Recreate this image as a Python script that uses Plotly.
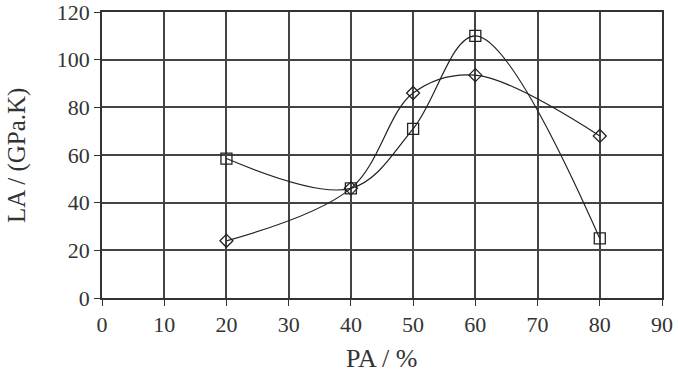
import plotly.graph_objects as go

pa = [20, 40, 50, 60, 80]
la_square = [58.5, 46, 71, 110, 25]
la_diamond = [24, 46, 86, 93.5, 68]

x_ticks = [0, 10, 20, 30, 40, 50, 60, 70, 80, 90]
y_ticks = [0, 20, 40, 60, 80, 100, 120]

fig = go.Figure()
fig.add_trace(go.Scatter(
    x=pa, y=la_square, mode="lines+markers",
    line=dict(color="#222", width=1.2, shape="spline", smoothing=1),
    marker=dict(symbol="square-open", size=11, color="#222", line=dict(width=1.3)),
    showlegend=False))
fig.add_trace(go.Scatter(
    x=pa, y=la_diamond, mode="lines+markers",
    line=dict(color="#222", width=1.2, shape="spline", smoothing=1),
    marker=dict(symbol="diamond-open", size=10, color="#222", line=dict(width=1.3)),
    showlegend=False))

font = dict(family="Liberation Serif, Times New Roman, serif", color="#333")
axis_common = dict(ticks="outside", ticklen=6, tickcolor="#333",
                   showgrid=True, gridcolor="#444", gridwidth=1.5,
                   zeroline=False, showline=True, linecolor="#333", linewidth=1.5,
                   mirror=True, tickfont=dict(size=22, **font),
                   ticklabeloverflow="allow", automargin=False)
fig.update_layout(
    width=678, height=372,
    margin=dict(l=102, r=16, t=12, b=74),
    paper_bgcolor="white", plot_bgcolor="white",
    font=font,
    xaxis=dict(range=[0, 90], tickvals=x_ticks, **axis_common),
    yaxis=dict(range=[0, 120], tickvals=y_ticks, **axis_common),
    annotations=[
        dict(text="PA / %", xref="paper", yref="paper", x=0.499, y=-0.21,
             xanchor="center", yanchor="middle", showarrow=False,
             font=dict(size=26, **font)),
        dict(text="LA / (GPa.K)", xref="paper", yref="paper", x=-0.1518, y=0.5,
             xanchor="center", yanchor="middle", showarrow=False, textangle=-90,
             font=dict(size=25, **font)),
    ],
)
fig.write_html("out.html")
